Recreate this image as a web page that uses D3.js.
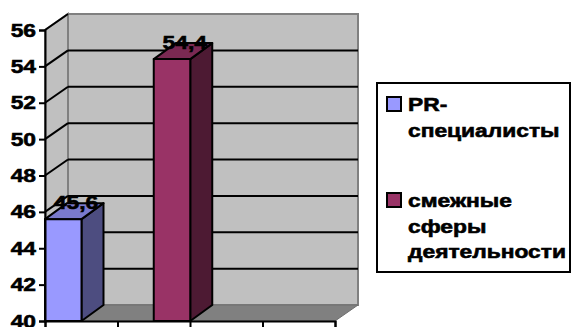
<!DOCTYPE html>
<html>
<head>
<meta charset="utf-8">
<script src="https://cdn.jsdelivr.net/npm/d3@7"></script>
<style>
  html, body { margin: 0; padding: 0; background: #fff; }
  svg { display: block; }
  svg text { font-family: "Liberation Sans", Arial, sans-serif; font-weight: 700; fill: #000; stroke: #000; stroke-width: 0.6px; }
</style>
</head>
<body>
<svg id="chart" width="572" height="327"></svg>
<script>
// Data
const seriesNames = ["PR-специалисты", "смежные сферы деятельности"];
const seriesValues = [45.6, 54.4];
const valueLabels = ["45,6", "54,4"];
const seriesSlots = [0, 1.5];          // position of each column along the category axis
const yTicks = [40, 42, 44, 46, 48, 50, 52, 54, 56];
const categorySlots = [0, 1, 2, 3, 4];
const legendLines = [["PR-", "специалисты"], ["смежные", "сферы", "деятельности"]];

const fronts = ["#9999FF", "#993366"];
const sides = ["#4D4D80", "#4D1A33"];
const tops = ["#7A7ACC", "#7A2952"];

const svg = d3.select("#chart");
const stretch = 1.2;                   // wide lettering

const y = d3.scaleLinear().domain([40, 56]).range([321, 30]);
const x = d3.scaleLinear().domain([0, 4]).range([45, 335]);
const depth = { dx: 23, dy: -16 };
const barDepth = { dx: 22, dy: -16 };
const barW = 36.5;

const x0 = x(0), x1 = x(4), yb = y(40), yt = y(56);

// back wall
svg.append("rect")
  .attr("x", x0 + depth.dx).attr("y", yt + depth.dy)
  .attr("width", x1 - x0).attr("height", yb - yt)
  .attr("fill", "#C0C0C0").attr("stroke", "#808080").attr("stroke-width", 2);

// side wall
svg.append("polygon")
  .attr("points", [[x0, yt], [x0 + depth.dx, yt + depth.dy], [x0 + depth.dx, yb + depth.dy], [x0, yb]].join(" "))
  .attr("fill", "#C0C0C0").attr("stroke", "#808080").attr("stroke-width", 2);

// floor
svg.append("polygon")
  .attr("points", [[x0, yb], [x1, yb], [x1 + depth.dx, yb + depth.dy], [x0 + depth.dx, yb + depth.dy]].join(" "))
  .attr("fill", "#808080").attr("stroke", "#6E6E6E").attr("stroke-width", 1);

// gridlines on back wall and side wall
const grid = yTicks.filter(t => t > 40 && t < 56);
svg.append("g").selectAll("line").data(grid).join("line")
  .attr("x1", x0 + depth.dx).attr("x2", x1 + depth.dx)
  .attr("y1", d => y(d) + depth.dy).attr("y2", d => y(d) + depth.dy)
  .attr("stroke", "#000").attr("stroke-width", 2);
svg.append("g").selectAll("line").data(yTicks.filter(t => t > 40)).join("line")
  .attr("x1", x0).attr("x2", x0 + depth.dx)
  .attr("y1", d => y(d)).attr("y2", d => y(d) + depth.dy)
  .attr("stroke", "#000").attr("stroke-width", 2);

// columns
const bars = svg.append("g");
seriesValues.forEach((v, i) => {
  const bx = x(seriesSlots[i]), bt = y(v);
  const g = bars.append("g").attr("stroke", "#000").attr("stroke-width", 2).attr("stroke-linejoin", "round");
  g.append("polygon")
    .attr("points", [[bx + barW, bt], [bx + barW + barDepth.dx, bt + barDepth.dy], [bx + barW + barDepth.dx, yb + barDepth.dy], [bx + barW, yb]].join(" "))
    .attr("fill", sides[i]);
  g.append("polygon")
    .attr("points", [[bx, bt], [bx + barDepth.dx, bt + barDepth.dy], [bx + barW + barDepth.dx, bt + barDepth.dy], [bx + barW, bt]].join(" "))
    .attr("fill", tops[i]);
  g.append("rect")
    .attr("x", bx).attr("y", bt).attr("width", barW).attr("height", yb - bt)
    .attr("fill", fronts[i]);
  svg.append("text")
    .attr("transform", `translate(${bx + 31},${bt - 10}) scale(${stretch},1)`)
    .attr("text-anchor", "middle")
    .attr("font-size", 19)
    .text(valueLabels[i]);
});

// value axis
const yAxis = d3.axisLeft(y).tickValues(yTicks).tickSize(6).tickPadding(3).tickFormat(d3.format("d"));
const ya = svg.append("g").attr("transform", `translate(${x0},0)`).call(yAxis);
ya.attr("font-family", null).attr("font-size", null);
ya.select(".domain").attr("stroke", "#000").attr("stroke-width", 2);
ya.selectAll(".tick line").attr("stroke", "#000").attr("stroke-width", 2);
ya.selectAll(".tick text").attr("font-size", 19).attr("fill", null)
  .attr("transform", `scale(${stretch},1)`).attr("x", -9 / stretch);

// category axis
const xAxis = d3.axisBottom(x).tickValues(categorySlots).tickSize(6).tickFormat("");
const xa = svg.append("g").attr("transform", `translate(0,${yb})`).call(xAxis);
xa.select(".domain").attr("stroke", "#000").attr("stroke-width", 2);
xa.selectAll(".tick line").attr("stroke", "#000").attr("stroke-width", 2);

// legend
const lg = svg.append("g");
lg.append("rect").attr("x", 377).attr("y", 83).attr("width", 193).attr("height", 189)
  .attr("fill", "#fff").attr("stroke", "#000").attr("stroke-width", 2);
const entryY = [97, 193];
legendLines.forEach((lines, i) => {
  lg.append("rect").attr("x", 387).attr("y", entryY[i]).attr("width", 14).attr("height", 14)
    .attr("fill", fronts[i]).attr("stroke", "#000").attr("stroke-width", 2);
  lines.forEach((t, j) => {
    lg.append("text")
      .attr("transform", `translate(408,${entryY[i] + 14 + j * 25.5}) scale(${stretch},1)`)
      .attr("font-size", 19).text(t);
  });
});
</script>
</body>
</html>
